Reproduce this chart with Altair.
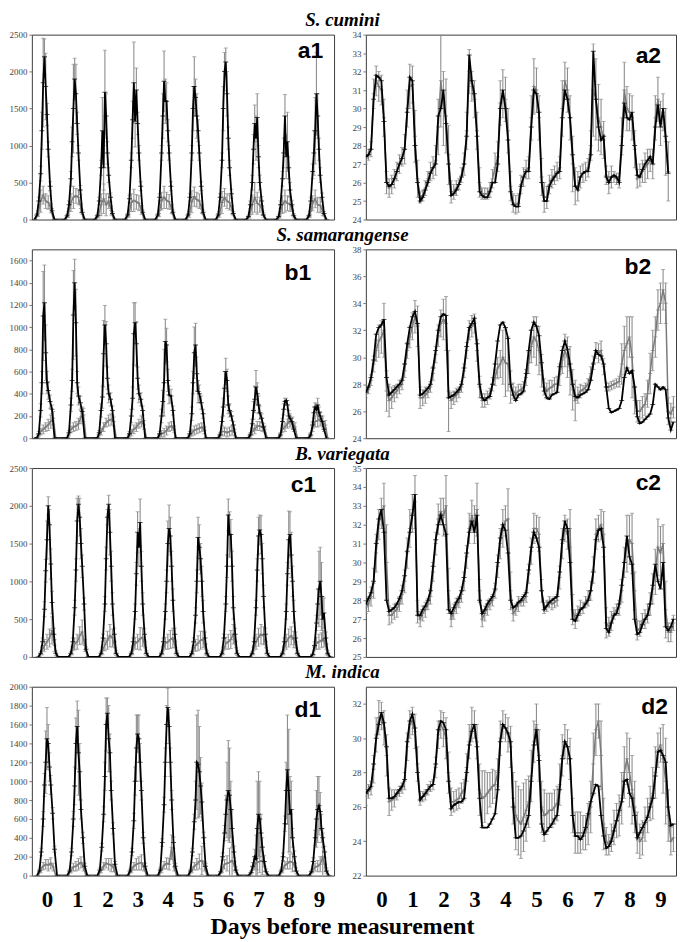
import altair as alt
import pandas as pd

# ---------------- hours within a day ----------------
HL = [4, 6, 7.5, 9, 10, 11, 12, 13, 14, 15, 16.5, 18, 20]   # light, black series
HG = [5, 7, 9, 11, 13, 15, 17, 19, 21]                      # light, grey series
HR = [0, 2, 4, 6, 8, 10, 12, 14, 16, 18, 20, 22]            # temperature
DAYS = list(range(10))

# ---------------- S. cumini ----------------
A1_B = [[0, 60, 250, 620, 1200, 1850, 2200, 1800, 1420, 950, 450, 120, 0],
        [0, 50, 200, 550, 1050, 1500, 1900, 1700, 1300, 900, 400, 100, 0],
        [0, 50, 250, 700, 1200, 700, 1720, 1400, 900, 600, 300, 80, 0],
        [0, 60, 280, 800, 1350, 1850, 1330, 1750, 1300, 900, 450, 100, 0],
        [0, 60, 300, 900, 1400, 1870, 1600, 1600, 1200, 900, 450, 100, 0],
        [0, 60, 300, 900, 1500, 1800, 1650, 1400, 1200, 900, 450, 100, 0],
        [0, 60, 300, 800, 1500, 2000, 2130, 1700, 1100, 700, 350, 80, 0],
        [0, 40, 200, 500, 950, 1300, 1100, 1380, 850, 500, 250, 60, 0],
        [0, 40, 200, 550, 900, 1400, 850, 1050, 700, 400, 200, 50, 0],
        [0, 50, 250, 650, 900, 1200, 1700, 1400, 950, 600, 300, 80, 0]]
A1_BE = [[0, 20, 50, 100, 250, 600, 240, 450, 150, 100, 60, 30, 0],
         [0, 20, 50, 100, 200, 600, 280, 400, 150, 100, 60, 30, 0],
         [0, 20, 50, 100, 450, 300, 570, 300, 150, 100, 60, 30, 0],
         [0, 20, 50, 100, 250, 550, 350, 300, 150, 100, 60, 30, 0],
         [0, 20, 50, 100, 300, 410, 300, 250, 150, 100, 60, 30, 0],
         [0, 20, 50, 100, 300, 400, 250, 300, 150, 100, 60, 30, 0],
         [0, 20, 50, 100, 300, 260, 190, 300, 150, 100, 60, 30, 0],
         [0, 20, 50, 100, 200, 250, 300, 320, 150, 100, 60, 30, 0],
         [0, 20, 50, 100, 200, 290, 300, 400, 150, 100, 60, 30, 0],
         [0, 20, 50, 100, 300, 450, 560, 300, 150, 100, 60, 30, 0]]
A1_G = [[0, 80, 250, 330, 250, 230, 150, 0, 0],
        [0, 70, 230, 300, 320, 300, 150, 0, 0],
        [0, 60, 200, 280, 200, 250, 120, 0, 0],
        [0, 70, 230, 260, 240, 220, 130, 0, 0],
        [0, 80, 250, 300, 260, 240, 140, 0, 0],
        [0, 70, 240, 310, 270, 250, 140, 0, 0],
        [0, 70, 230, 300, 250, 230, 130, 0, 0],
        [0, 60, 200, 300, 220, 200, 120, 0, 0],
        [0, 60, 200, 250, 220, 210, 120, 0, 0],
        [0, 70, 220, 280, 200, 190, 110, 0, 0]]
A1_GE = [[0, 40, 150, 120, 100, 90, 60, 0, 0],
         [0, 40, 120, 150, 100, 100, 60, 0, 0],
         [0, 40, 150, 200, 150, 100, 60, 0, 0],
         [0, 40, 120, 150, 100, 100, 60, 0, 0],
         [0, 40, 120, 150, 110, 100, 60, 0, 0],
         [0, 40, 150, 130, 100, 100, 60, 0, 0],
         [0, 40, 150, 120, 100, 100, 60, 0, 0],
         [0, 40, 130, 200, 150, 100, 60, 0, 0],
         [0, 40, 120, 150, 100, 100, 60, 0, 0],
         [0, 40, 100, 120, 100, 100, 60, 0, 0]]
A2_B = [[27.4, 27.5, 27.8, 30.5, 31.8, 31.7, 31.5, 29.3, 26.0, 25.8, 25.9, 26.2],
        [26.6, 27.0, 27.3, 27.8, 29.8, 31.7, 31.5, 28.0, 26.0, 25.0, 25.2, 25.6],
        [26.0, 26.5, 26.8, 27.0, 29.6, 30.0, 31.0, 29.2, 27.0, 25.3, 25.4, 25.6],
        [25.9, 26.3, 27.0, 28.5, 32.9, 31.5, 30.8, 28.5, 25.5, 25.3, 25.2, 25.2],
        [25.5, 26.0, 26.0, 27.0, 30.0, 31.0, 30.0, 28.3, 25.5, 24.8, 24.7, 24.7],
        [25.8, 26.3, 26.6, 26.6, 29.0, 31.0, 30.8, 29.8, 26.0, 25.0, 25.0, 25.8],
        [26.1, 26.3, 26.5, 26.6, 29.5, 31.0, 30.5, 29.5, 27.5, 25.8, 25.6, 26.3],
        [26.5, 26.6, 26.6, 27.5, 33.1, 30.5, 29.0, 28.3, 28.5, 26.3, 26.0, 26.3],
        [26.4, 26.3, 26.0, 28.0, 30.3, 29.5, 29.4, 29.8, 28.0, 26.4, 26.3, 26.7],
        [27.0, 27.2, 27.4, 27.0, 29.0, 30.2, 29.0, 30.0, 28.5, 26.5]]
A2_G = [[27.3, 27.5, 27.8, 30.8, 31.5, 31.2, 31.0, 29.5, 26.0, 25.7, 25.9, 26.2],
        [26.6, 27.0, 27.4, 27.8, 30.0, 31.2, 31.3, 28.5, 26.2, 25.2, 25.3, 25.7],
        [26.2, 26.6, 26.8, 27.2, 29.0, 31.5, 30.0, 29.6, 27.5, 25.5, 25.5, 25.7],
        [25.9, 26.4, 27.0, 28.8, 32.0, 31.2, 30.5, 28.8, 26.0, 25.4, 25.4, 25.4],
        [25.6, 26.2, 26.8, 27.4, 30.3, 30.8, 30.5, 28.8, 25.8, 24.9, 24.8, 24.9],
        [25.9, 26.3, 26.7, 26.8, 29.5, 31.2, 31.0, 29.5, 26.3, 25.2, 25.2, 25.9],
        [26.2, 26.4, 26.6, 26.8, 30.0, 31.5, 31.0, 29.5, 27.0, 25.8, 25.8, 26.3],
        [26.5, 26.6, 26.8, 28.0, 31.0, 30.5, 29.5, 29.0, 28.3, 26.4, 26.0, 26.3],
        [26.3, 26.2, 26.1, 28.5, 31.0, 30.0, 29.8, 29.5, 27.8, 26.2, 26.4, 26.6],
        [26.8, 27.0, 27.2, 27.0, 29.5, 30.5, 29.2, 29.8, 28.2, 26.6]]
A2_GE = [[0.3, 0.3, 0.4, 0.8, 0.8, 0.8, 0.8, 1.0, 0.6, 0.5, 0.5, 0.5],
         [0.5, 0.5, 0.5, 0.8, 1.0, 1.2, 1.0, 1.4, 1.0, 0.3, 0.3, 0.4],
         [0.4, 0.5, 0.6, 0.8, 1.5, 2.5, 2.0, 2.0, 1.6, 0.6, 0.4, 0.4],
         [0.3, 0.4, 0.6, 1.0, 1.2, 0.8, 1.0, 1.0, 0.8, 0.3, 0.3, 0.3],
         [0.4, 0.5, 0.8, 0.8, 1.2, 1.3, 1.2, 1.2, 0.8, 0.5, 0.5, 0.5],
         [0.5, 0.5, 0.5, 0.6, 1.2, 1.5, 1.2, 1.2, 1.0, 0.8, 0.6, 0.5],
         [0.5, 0.5, 0.5, 0.6, 1.5, 1.0, 1.2, 1.2, 1.5, 1.0, 0.8, 0.6],
         [0.5, 0.5, 0.5, 0.8, 2.5, 2.2, 1.8, 1.5, 1.0, 0.5, 0.6, 0.6],
         [0.3, 0.3, 0.4, 1.0, 1.5, 1.2, 1.0, 1.2, 1.0, 0.5, 0.6, 0.6],
         [0.8, 0.8, 0.6, 0.8, 1.2, 1.2, 1.2, 1.0, 1.8, 1.6]]

# ---------------- S. samarangense ----------------
B1_B = [[0, 0, 40, 250, 500, 1100, 1220, 770, 500, 430, 330, 260, 0],
        [0, 0, 50, 300, 520, 1110, 1400, 1040, 500, 380, 320, 240, 0],
        [0, 0, 50, 250, 370, 760, 1020, 850, 540, 400, 350, 250, 0],
        [0, 0, 40, 200, 360, 940, 1040, 850, 540, 400, 350, 250, 0],
        [0, 0, 40, 200, 330, 500, 870, 840, 520, 390, 380, 250, 0],
        [0, 0, 40, 220, 500, 770, 840, 580, 420, 400, 320, 220, 0],
        [0, 0, 30, 150, 280, 450, 600, 520, 300, 250, 200, 120, 0],
        [0, 0, 30, 130, 250, 350, 460, 400, 300, 230, 180, 100, 0],
        [0, 0, 30, 150, 260, 330, 340, 300, 200, 180, 150, 80, 0],
        [0, 0, 30, 120, 230, 280, 260, 300, 230, 200, 150, 80, 0]]
B1_BE = [[0, 0, 20, 60, 100, 400, 340, 250, 100, 80, 60, 40, 0],
         [0, 0, 20, 60, 100, 400, 210, 300, 100, 80, 60, 40, 0],
         [0, 0, 20, 60, 100, 300, 175, 200, 100, 80, 60, 40, 0],
         [0, 0, 20, 60, 100, 280, 180, 200, 100, 80, 60, 40, 0],
         [0, 0, 20, 60, 100, 300, 200, 150, 100, 80, 60, 40, 0],
         [0, 0, 20, 60, 100, 230, 195, 150, 100, 80, 60, 40, 0],
         [0, 0, 20, 40, 80, 150, 120, 100, 80, 60, 40, 30, 0],
         [0, 0, 20, 40, 80, 120, 150, 100, 80, 60, 40, 30, 0],
         [0, 0, 20, 30, 50, 30, 20, 40, 50, 40, 30, 20, 0],
         [0, 0, 20, 30, 50, 40, 50, 60, 50, 40, 30, 20, 0]]
B1_G = [[0, 20, 60, 80, 100, 120, 150, 180, 0],
        [0, 20, 80, 100, 110, 130, 190, 210, 0],
        [0, 20, 60, 100, 140, 160, 170, 150, 0],
        [0, 20, 50, 80, 100, 130, 150, 120, 0],
        [0, 20, 40, 50, 70, 100, 110, 80, 0],
        [0, 20, 50, 70, 80, 90, 100, 70, 0],
        [0, 20, 60, 60, 50, 60, 70, 50, 0],
        [0, 20, 60, 80, 110, 110, 100, 80, 0],
        [0, 30, 80, 100, 130, 150, 140, 100, 0],
        [0, 30, 100, 150, 160, 170, 150, 120, 0]]
B1_GE = [[0, 15, 30, 40, 40, 50, 60, 60, 0],
         [0, 15, 30, 40, 40, 50, 60, 60, 0],
         [0, 15, 30, 40, 40, 50, 50, 40, 0],
         [0, 15, 30, 40, 40, 40, 50, 40, 0],
         [0, 15, 30, 40, 40, 40, 40, 30, 0],
         [0, 15, 30, 40, 40, 40, 40, 30, 0],
         [0, 15, 30, 40, 40, 40, 40, 30, 0],
         [0, 15, 30, 40, 40, 40, 40, 30, 0],
         [0, 15, 30, 40, 40, 50, 50, 40, 0],
         [0, 15, 40, 50, 60, 60, 50, 40, 0]]
B2_B = [[27.4, 27.8, 28.5, 29.8, 31.7, 32.2, 32.4, 32.8, 28.5, 27.2, 27.4, 27.6],
        [27.8, 28.0, 28.3, 29.5, 31.0, 32.2, 33.0, 33.4, 32.5, 27.2, 27.3, 27.5],
        [27.7, 28.0, 29.2, 30.5, 32.0, 33.0, 33.2, 33.1, 27.0, 27.1, 27.2, 27.4],
        [27.6, 28.0, 29.2, 30.8, 32.2, 32.5, 32.9, 31.0, 28.0, 27.0, 26.8, 27.0],
        [27.1, 28.0, 29.5, 31.2, 32.4, 32.6, 32.2, 31.4, 28.0, 27.2, 26.8, 27.2],
        [27.3, 27.5, 28.8, 30.5, 32.0, 32.6, 32.3, 31.6, 29.6, 27.5, 27.0, 26.9],
        [27.2, 27.3, 27.4, 29.3, 30.5, 31.2, 30.6, 29.5, 28.0, 27.1, 27.0, 27.2],
        [27.3, 27.4, 27.6, 28.3, 29.5, 30.5, 30.2, 30.1, 29.5, 27.8, 26.2, 25.9],
        [26.0, 26.1, 26.2, 26.8, 28.5, 29.2, 28.8, 29.0, 27.8, 25.6, 25.1, 25.2],
        [25.4, 25.6, 25.8, 26.5, 28.0, 27.8, 27.6, 27.8, 27.6, 25.5, 24.6, 25.2]]
B2_G = [[27.3, 27.6, 28.3, 29.5, 30.5, 31.2, 31.5, 32.0, 27.5, 26.8, 27.0, 27.3],
        [27.5, 27.8, 28.0, 29.0, 30.5, 31.5, 32.3, 33.0, 32.3, 27.0, 27.0, 27.2],
        [27.4, 27.8, 28.8, 30.2, 31.6, 32.5, 32.8, 32.5, 27.5, 26.8, 27.0, 27.2],
        [27.4, 27.8, 29.0, 30.5, 32.0, 32.3, 32.5, 30.5, 27.8, 26.8, 26.8, 27.0],
        [27.3, 28.0, 28.5, 29.2, 29.5, 30.0, 29.6, 29.5, 27.8, 27.5, 27.3, 27.5],
        [27.6, 27.8, 28.5, 29.6, 30.8, 31.5, 31.2, 30.5, 29.0, 27.8, 27.5, 27.7],
        [27.8, 28.0, 28.0, 28.7, 29.8, 30.5, 30.0, 29.0, 27.6, 26.8, 27.2, 27.5],
        [27.6, 27.8, 28.0, 28.8, 29.6, 30.5, 30.3, 30.5, 29.3, 27.8, 27.8, 27.9],
        [28.0, 28.1, 28.2, 29.5, 30.5, 31.0, 31.5, 30.0, 26.8, 26.0, 26.0, 26.3],
        [26.5, 27.3, 28.8, 30.5, 31.5, 33.5, 34.0, 35.0, 34.0, 26.0, 25.8, 26.3]]
B2_GE = [[0.3, 0.3, 0.4, 0.6, 0.8, 1.2, 1.2, 2.0, 1.5, 1.2, 0.8, 0.6],
         [0.5, 0.5, 0.4, 0.5, 0.6, 0.8, 1.0, 1.2, 1.5, 0.8, 0.6, 0.6],
         [0.4, 0.4, 0.5, 0.6, 0.8, 1.0, 1.5, 2.0, 3.0, 0.6, 0.5, 0.5],
         [0.4, 0.4, 0.5, 0.6, 0.7, 0.8, 0.7, 0.8, 0.8, 0.5, 0.5, 0.5],
         [0.4, 0.5, 0.6, 0.8, 1.0, 2.0, 2.5, 2.0, 1.2, 0.6, 0.5, 0.5],
         [0.4, 0.4, 0.6, 0.8, 1.2, 1.5, 1.8, 1.8, 1.2, 0.6, 0.6, 0.6],
         [0.5, 0.5, 0.6, 0.8, 1.0, 1.2, 1.5, 1.8, 1.5, 1.5, 0.6, 0.5],
         [0.3, 0.3, 0.4, 0.5, 0.5, 0.6, 0.7, 0.7, 0.6, 0.3, 0.3, 0.3],
         [0.3, 0.3, 0.4, 1.5, 1.8, 2.0, 1.5, 3.0, 1.0, 0.8, 0.8, 0.8],
         [0.8, 1.0, 1.5, 1.5, 1.5, 1.5, 1.5, 1.5, 1.5, 1.0, 0.8, 0.8]]

# ---------------- B. variegata ----------------
C1_B = [[0, 50, 200, 630, 1140, 1550, 2000, 1750, 1230, 720, 300, 50, 0],
        [0, 50, 200, 650, 1150, 1800, 2020, 1850, 1500, 1200, 700, 100, 0],
        [0, 50, 250, 700, 1300, 1850, 2020, 1650, 1200, 700, 300, 50, 0],
        [0, 50, 200, 600, 1100, 1650, 1450, 1780, 1200, 700, 300, 50, 0],
        [0, 50, 200, 600, 1000, 1500, 1700, 1600, 1200, 750, 300, 50, 0],
        [0, 50, 200, 550, 1000, 1580, 1450, 1300, 1000, 600, 250, 50, 0],
        [0, 50, 250, 700, 1200, 1880, 1620, 1620, 1200, 650, 300, 50, 0],
        [0, 50, 200, 650, 1150, 1600, 1680, 1620, 1300, 800, 300, 50, 0],
        [0, 50, 200, 600, 1100, 1550, 1620, 1350, 1000, 600, 250, 50, 0],
        [0, 30, 150, 450, 700, 900, 1000, 800, 500, 580, 250, 50, 0]]
C1_BE = [[0, 20, 50, 100, 150, 250, 120, 200, 200, 150, 80, 30, 0],
         [0, 20, 50, 100, 150, 300, 110, 250, 200, 150, 80, 30, 0],
         [0, 20, 50, 100, 150, 100, 120, 300, 200, 150, 80, 30, 0],
         [0, 20, 50, 100, 150, 270, 250, 310, 200, 150, 80, 30, 0],
         [0, 20, 50, 100, 150, 300, 310, 250, 200, 150, 80, 30, 0],
         [0, 20, 50, 100, 150, 270, 300, 200, 200, 150, 80, 30, 0],
         [0, 20, 50, 100, 150, 210, 300, 200, 200, 150, 80, 30, 0],
         [0, 20, 50, 100, 150, 250, 200, 250, 200, 150, 80, 30, 0],
         [0, 20, 50, 100, 150, 380, 300, 300, 200, 150, 80, 30, 0],
         [0, 20, 50, 100, 200, 500, 450, 450, 300, 200, 80, 30, 0]]
C1_G = [[0, 80, 150, 200, 250, 350, 150, 0, 0],
        [0, 80, 170, 200, 280, 330, 150, 0, 0],
        [0, 80, 160, 220, 280, 250, 120, 0, 0],
        [0, 80, 180, 200, 240, 260, 120, 0, 0],
        [0, 80, 180, 200, 230, 250, 120, 0, 0],
        [0, 80, 150, 180, 220, 230, 100, 0, 0],
        [0, 80, 180, 200, 230, 300, 120, 0, 0],
        [0, 80, 200, 260, 300, 280, 120, 0, 0],
        [0, 80, 200, 250, 280, 230, 120, 0, 0],
        [0, 80, 180, 200, 220, 240, 100, 0, 0]]
C1_GE = [[0, 50, 80, 100, 120, 180, 80, 0, 0],
         [0, 50, 80, 100, 120, 160, 80, 0, 0],
         [0, 50, 80, 120, 150, 120, 80, 0, 0],
         [0, 50, 80, 100, 150, 120, 80, 0, 0],
         [0, 50, 80, 100, 120, 130, 80, 0, 0],
         [0, 50, 80, 100, 120, 110, 70, 0, 0],
         [0, 50, 80, 100, 120, 130, 80, 0, 0],
         [0, 50, 100, 120, 130, 120, 80, 0, 0],
         [0, 50, 100, 120, 120, 110, 80, 0, 0],
         [0, 50, 80, 100, 100, 110, 70, 0, 0]]
C2_B = [[27.8, 28.1, 28.4, 29.0, 31.0, 32.3, 32.8, 31.6, 28.0, 27.4, 27.5, 27.6],
        [27.8, 28.1, 28.5, 29.3, 30.6, 31.6, 32.5, 33.6, 27.2, 27.2, 27.5, 27.7],
        [28.0, 28.5, 29.8, 31.2, 32.0, 32.5, 32.0, 31.5, 27.5, 27.3, 27.6, 27.9],
        [28.1, 28.5, 29.2, 30.5, 31.6, 32.2, 31.6, 32.5, 28.0, 27.3, 27.5, 27.8],
        [28.0, 28.2, 28.6, 30.0, 31.3, 32.0, 31.7, 30.5, 28.0, 27.6, 27.7, 27.9],
        [28.0, 28.2, 28.4, 29.6, 30.8, 31.6, 31.3, 30.8, 28.5, 27.5, 27.7, 27.9],
        [28.0, 28.1, 28.2, 29.5, 31.2, 32.2, 31.8, 30.0, 27.0, 26.9, 27.2, 27.5],
        [27.6, 27.8, 28.0, 28.5, 29.5, 31.2, 31.7, 31.8, 30.8, 26.5, 26.3, 26.8],
        [27.2, 27.3, 27.8, 28.8, 30.0, 31.4, 30.3, 29.9, 27.0, 26.2, 26.3, 26.7],
        [27.0, 27.2, 27.8, 28.8, 29.9, 29.0, 28.6, 30.0, 26.6, 26.4, 26.6, 27.0]]
C2_G = [[27.6, 27.8, 28.2, 28.9, 30.5, 32.0, 32.6, 33.0, 30.0, 27.2, 27.2, 27.4],
        [27.5, 27.8, 28.3, 29.0, 30.5, 31.8, 32.6, 33.2, 27.4, 27.0, 27.3, 27.5],
        [27.8, 28.2, 29.5, 31.0, 32.3, 32.7, 32.4, 33.0, 28.5, 27.0, 27.4, 27.7],
        [27.9, 28.3, 29.0, 30.3, 31.8, 32.5, 32.0, 32.8, 28.5, 27.0, 27.3, 27.6],
        [27.8, 28.0, 28.5, 29.8, 31.0, 31.8, 32.2, 32.3, 28.5, 27.3, 27.5, 27.8],
        [27.9, 28.0, 28.2, 29.4, 30.6, 31.8, 31.8, 31.5, 28.5, 27.6, 27.7, 27.9],
        [27.8, 27.9, 28.0, 29.2, 31.0, 31.8, 31.5, 31.8, 27.5, 27.0, 27.3, 27.6],
        [27.6, 27.9, 28.1, 28.5, 29.6, 31.5, 31.8, 32.0, 31.5, 26.8, 26.6, 26.9],
        [27.3, 27.5, 27.6, 28.5, 30.0, 31.0, 31.2, 31.0, 28.5, 26.4, 26.5, 26.9],
        [27.0, 27.3, 27.8, 28.6, 29.5, 30.8, 30.5, 31.0, 27.5, 26.3, 26.3, 26.8]]
C2_GE = [[0.3, 0.4, 0.5, 0.8, 1.0, 0.8, 0.8, 1.2, 2.0, 0.5, 0.4, 0.4],
         [0.4, 0.4, 0.5, 0.6, 0.8, 1.0, 1.0, 1.4, 0.6, 0.4, 0.4, 0.4],
         [0.3, 0.4, 0.5, 0.6, 0.8, 0.7, 1.0, 1.6, 1.2, 0.4, 0.4, 0.4],
         [0.3, 0.4, 0.5, 0.6, 0.8, 0.8, 1.0, 1.4, 0.6, 0.4, 0.4, 0.4],
         [0.3, 0.3, 0.4, 0.6, 0.8, 1.0, 0.8, 1.6, 1.0, 0.4, 0.3, 0.4],
         [0.2, 0.3, 0.3, 0.5, 0.7, 0.8, 0.7, 0.9, 0.6, 0.3, 0.3, 0.3],
         [0.3, 0.3, 0.3, 0.6, 0.8, 0.7, 0.8, 1.0, 0.8, 0.5, 0.4, 0.4],
         [0.3, 0.3, 0.4, 0.5, 0.7, 0.8, 0.7, 0.8, 1.2, 0.8, 0.5, 0.5],
         [0.3, 0.3, 0.4, 0.6, 0.8, 1.5, 1.3, 1.6, 1.0, 0.5, 0.4, 0.4],
         [0.5, 0.5, 0.6, 0.8, 1.2, 1.5, 1.4, 1.0, 1.5, 0.5, 0.5, 0.4]]

# ---------------- M. indica ----------------
D1_B = [[0, 50, 250, 600, 960, 1200, 1450, 1400, 1150, 960, 660, 280, 0],
        [0, 50, 250, 600, 950, 1400, 1580, 1300, 1100, 700, 400, 100, 0],
        [0, 60, 300, 650, 1050, 1600, 1720, 1450, 1300, 900, 500, 120, 0],
        [0, 50, 250, 580, 1000, 1350, 1500, 1450, 1200, 900, 400, 100, 0],
        [0, 60, 350, 750, 1200, 1600, 1780, 1580, 1200, 800, 350, 100, 0],
        [0, 50, 250, 570, 800, 1200, 1180, 1100, 950, 780, 400, 100, 0],
        [0, 40, 200, 450, 650, 800, 900, 850, 700, 500, 250, 60, 0],
        [0, 30, 100, 200, 180, 500, 650, 600, 450, 300, 150, 40, 0],
        [0, 50, 200, 550, 900, 1120, 900, 650, 700, 400, 200, 50, 0],
        [0, 40, 150, 400, 600, 700, 740, 680, 500, 400, 250, 50, 0]]
D1_BE = [[0, 20, 40, 80, 120, 330, 330, 200, 150, 100, 60, 30, 0],
         [0, 20, 40, 80, 200, 270, 270, 450, 300, 100, 60, 30, 0],
         [0, 20, 40, 80, 150, 280, 160, 350, 200, 100, 60, 30, 0],
         [0, 20, 40, 80, 150, 350, 200, 250, 200, 100, 60, 30, 0],
         [0, 20, 40, 80, 150, 200, 200, 180, 150, 100, 60, 30, 0],
         [0, 20, 40, 80, 200, 500, 570, 480, 300, 200, 60, 30, 0],
         [0, 20, 40, 80, 200, 400, 530, 500, 300, 200, 60, 30, 0],
         [0, 20, 40, 80, 250, 500, 450, 400, 200, 100, 60, 30, 0],
         [0, 20, 40, 80, 300, 580, 650, 400, 300, 100, 60, 30, 0],
         [0, 20, 40, 80, 300, 350, 310, 200, 150, 100, 60, 30, 0]]
D1_G = [[0, 60, 100, 120, 110, 130, 90, 0, 0],
        [0, 60, 90, 100, 120, 140, 90, 0, 0],
        [0, 60, 100, 130, 120, 110, 80, 0, 0],
        [0, 60, 100, 120, 130, 140, 90, 0, 0],
        [0, 60, 110, 130, 120, 300, 90, 0, 0],
        [0, 60, 100, 120, 150, 160, 100, 0, 0],
        [0, 60, 120, 130, 140, 160, 100, 0, 0],
        [0, 60, 120, 140, 150, 160, 100, 0, 0],
        [0, 60, 110, 130, 150, 140, 90, 0, 0],
        [0, 60, 90, 100, 120, 200, 80, 0, 0]]
D1_GE = [[0, 30, 40, 50, 60, 60, 40, 0, 0],
         [0, 30, 40, 50, 60, 60, 40, 0, 0],
         [0, 30, 40, 50, 60, 70, 40, 0, 0],
         [0, 30, 40, 60, 70, 80, 40, 0, 0],
         [0, 30, 40, 60, 60, 130, 40, 0, 0],
         [0, 30, 40, 60, 80, 150, 50, 0, 0],
         [0, 30, 50, 80, 150, 250, 50, 0, 0],
         [0, 30, 50, 80, 120, 150, 50, 0, 0],
         [0, 30, 40, 60, 80, 100, 40, 0, 0],
         [0, 30, 40, 60, 80, 250, 40, 0, 0]]
D2_B = [[26.8, 27.0, 27.2, 28.5, 30.0, 30.8, 31.5, 30.9, 29.5, 26.5, 26.5, 26.6],
        [26.8, 27.0, 27.2, 27.6, 29.8, 31.0, 31.4, 30.6, 28.0, 26.4, 26.6, 26.8],
        [27.0, 27.2, 27.3, 28.5, 30.5, 31.0, 30.9, 30.5, 27.5, 25.9, 26.1, 26.2],
        [26.3, 26.3, 26.5, 28.0, 29.6, 30.4, 30.8, 29.5, 26.5, 24.8, 24.8, 24.8],
        [25.0, 25.3, 25.6, 27.0, 29.8, 30.8, 30.6, 30.3, 29.8, 26.0, 24.2, 24.2],
        [24.3, 24.6, 25.0, 25.5, 27.5, 29.6, 30.5, 28.7, 25.0, 24.4, 24.6, 24.8],
        [25.0, 25.3, 25.5, 27.0, 28.8, 29.8, 29.5, 28.8, 25.5, 24.3, 24.3, 24.1],
        [24.3, 24.8, 25.6, 26.3, 26.8, 27.3, 27.2, 25.5, 24.3, 23.6, 23.7, 24.0],
        [24.6, 25.2, 25.8, 26.3, 27.5, 27.6, 26.8, 26.5, 25.5, 24.2, 24.5, 24.8],
        [25.1, 25.4, 26.0, 26.5, 27.8, 29.2, 29.3, 29.0, 28.6, 26.0, 24.9, 25.0]]
D2_G = [[26.6, 26.9, 27.1, 28.2, 30.2, 31.2, 31.3, 30.6, 29.0, 26.3, 26.4, 26.5],
        [26.7, 26.9, 27.1, 27.5, 29.5, 30.8, 31.0, 30.4, 28.5, 26.5, 26.6, 26.7],
        [27.0, 27.2, 27.3, 28.3, 30.2, 30.8, 30.5, 30.0, 28.0, 26.3, 26.3, 26.4],
        [26.5, 26.8, 27.0, 28.3, 29.8, 30.8, 30.8, 29.8, 27.0, 26.5, 26.6, 26.8],
        [27.0, 27.2, 27.3, 28.0, 30.0, 30.8, 30.6, 30.2, 29.5, 26.5, 25.5, 25.2],
        [25.0, 25.4, 25.8, 26.3, 27.8, 29.8, 30.8, 29.0, 26.0, 25.5, 25.6, 25.8],
        [25.8, 26.0, 26.2, 27.3, 29.0, 29.8, 29.5, 28.8, 25.5, 24.5, 24.5, 24.5],
        [24.5, 24.5, 25.0, 26.0, 28.5, 30.5, 31.0, 29.0, 25.0, 24.0, 23.8, 24.2],
        [24.8, 25.2, 25.5, 26.5, 28.0, 28.8, 28.0, 27.0, 26.0, 24.5, 24.0, 24.2],
        [25.0, 25.5, 26.2, 26.8, 28.0, 29.3, 29.6, 28.8, 27.5, 25.5, 24.0, 24.2]]
D2_GE = [[0.5, 0.4, 0.4, 0.8, 1.0, 1.0, 0.8, 1.0, 1.2, 0.8, 0.6, 0.5],
         [0.3, 0.3, 0.3, 0.5, 0.8, 0.8, 0.8, 1.0, 1.0, 0.4, 0.3, 0.3],
         [0.3, 0.3, 0.3, 0.6, 0.8, 0.8, 1.0, 1.2, 1.2, 0.8, 0.6, 0.6],
         [0.6, 0.6, 0.6, 0.8, 1.0, 1.0, 0.8, 1.0, 1.5, 1.6, 1.5, 1.2],
         [1.0, 1.0, 0.8, 0.8, 1.0, 0.8, 0.8, 1.0, 1.2, 1.5, 2.0, 2.0],
         [2.0, 2.0, 1.8, 1.5, 1.5, 1.2, 1.2, 1.5, 1.5, 1.5, 1.2, 1.0],
         [1.0, 1.0, 1.0, 1.2, 1.2, 1.0, 1.0, 1.2, 1.0, 1.2, 1.2, 1.2],
         [1.0, 1.0, 1.2, 1.5, 1.8, 1.5, 1.0, 2.0, 1.5, 0.8, 0.6, 0.8],
         [1.0, 1.0, 1.2, 1.5, 1.5, 1.5, 2.0, 2.0, 1.5, 1.2, 1.0, 1.0],
         [1.0, 1.0, 1.0, 1.5, 1.5, 1.0, 1.0, 2.0, 2.5, 1.5, 0.8, 0.8]]

TITLES = ["S. cumini", "S. samarangense", "B. variegata", "M. indica"]
X_TITLE = "Days before measurement"

GREY_LINE = "#7a7a7a"
GREY_ERR = "#8e8e8e"
SERIF = "Liberation Serif"


def light_frame(b, be, g, ge):
    rows = []
    for d in DAYS:
        for h, v, e in zip(HL, b[d], be[d]):
            rows.append({"x": 24 * d + h, "v": v, "e": e, "s": "B"})
        for h, v, e in zip(HG, g[d], ge[d]):
            rows.append({"x": 24 * d + h, "v": v, "e": e, "s": "G"})
    return pd.DataFrame(rows)


def temp_frame(b, g, ge):
    rows = []
    for d in DAYS:
        for h, v in zip(HR, b[d]):
            rows.append({"x": 24 * d + h, "v": v, "e": 0, "s": "B"})
        for h, v, e in zip(HR, g[d], ge[d]):
            rows.append({"x": 24 * d + h, "v": v, "e": e, "s": "G"})
    return pd.DataFrame(rows)


def panel(df, xdom, ydom, yticks, w, h, label, lx, ly, bottom):
    if bottom:
        xaxis = alt.Axis(values=[12 + 24 * i for i in DAYS],
                         labelExpr="'' + floor(datum.value / 24)",
                         ticks=False, domain=False, grid=False, title=None,
                         labelFont=SERIF, labelFontSize=23, labelFontWeight="bold",
                         labelColor="black", labelPadding=13)
    else:
        xaxis = None
    xs = alt.Scale(domain=xdom, nice=False, zero=False)
    ys = alt.Scale(domain=ydom, nice=False, zero=False)
    yaxis = alt.Axis(values=yticks, title=None, grid=False, domain=False, format="d",
                     tickSize=3, tickColor="#777", labelFont=SERIF,
                     labelFontSize=9, labelColor="#444", labelPadding=2)
    X = alt.X("x:Q", scale=xs, axis=xaxis)

    base = alt.Chart(df)
    err = base.transform_filter("datum.e > 0").transform_calculate(
        lo="datum.v - datum.e", hi="datum.v + datum.e")
    rules = err.mark_rule(color=GREY_ERR, strokeWidth=1.1, clip=True).encode(
        x=X, y=alt.Y("lo:Q", scale=ys, axis=yaxis), y2="hi:Q")
    cap_hi = err.mark_tick(orient="horizontal", size=4, thickness=1,
                           color=GREY_ERR, clip=True).encode(
        x=X, y=alt.Y("hi:Q", scale=ys, axis=yaxis))
    cap_lo = err.mark_tick(orient="horizontal", size=4, thickness=1,
                           color=GREY_ERR, clip=True).encode(
        x=X, y=alt.Y("lo:Q", scale=ys, axis=yaxis))
    Y = alt.Y("v:Q", scale=ys, axis=yaxis)
    g = base.transform_filter("datum.s == 'G'")
    b = base.transform_filter("datum.s == 'B'")
    gline = g.mark_line(color=GREY_LINE, strokeWidth=1.5, clip=True).encode(x=X, y=Y)
    gtick = g.mark_tick(orient="horizontal", size=4, thickness=1,
                        color=GREY_LINE, clip=True).encode(x=X, y=Y)
    bline = b.mark_line(color="black", strokeWidth=1.8, clip=True).encode(x=X, y=Y)
    btick = b.mark_tick(orient="horizontal", size=5, thickness=1,
                        color="black", clip=True).encode(x=X, y=Y)
    lab = alt.Chart(pd.DataFrame({"t": [label]})).mark_text(
        align="right", baseline="middle", font="Liberation Sans",
        fontWeight="bold", fontSize=23, color="black").encode(
        text="t:N", x=alt.value(w - lx), y=alt.value(ly))
    return alt.layer(rules, cap_hi, cap_lo, gline, gtick, bline, btick, lab).properties(
        width=w, height=h)


LW, RW = 304, 312
HA, HB = 186, 190

a1 = panel(light_frame(A1_B, A1_BE, A1_G, A1_GE), [2, 242], [0, 2500],
           [0, 500, 1000, 1500, 2000, 2500], LW, HA, "a1", 11, 17, False)
a2 = panel(temp_frame(A2_B, A2_G, A2_GE), [0, 240], [24, 34],
           list(range(24, 35)), RW, HA, "a2", 15, 22, False)
b1 = panel(light_frame(B1_B, B1_BE, B1_G, B1_GE), [2, 242], [0, 1700],
           list(range(0, 1601, 200)), LW, HB, "b1", 23, 24, False)
b2 = panel(temp_frame(B2_B, B2_G, B2_GE), [0, 240], [24, 38],
           list(range(24, 39, 2)), RW, HB, "b2", 25, 18, False)
c1 = panel(light_frame(C1_B, C1_BE, C1_G, C1_GE), [-1, 239], [0, 2500],
           [0, 500, 1000, 1500, 2000, 2500], LW, HB, "c1", 18, 17, False)
c2 = panel(temp_frame(C2_B, C2_G, C2_GE), [0, 240], [25, 35],
           list(range(25, 36)), RW, HB, "c2", 15, 15, False)
d1 = panel(light_frame(D1_B, D1_BE, D1_G, D1_GE), [0, 240], [0, 2000],
           list(range(0, 2001, 200)), LW, HB, "d1", 13, 23, True)
d2 = panel(temp_frame(D2_B, D2_G, D2_GE), [0, 240], [22, 33],
           list(range(22, 33, 2)), RW, HB, "d2", 8, 20, True)


def row(left, right, title):
    return alt.hconcat(left, right, spacing=16, title=alt.TitleParams(
        title, anchor="middle", font=SERIF, fontSize=19, fontStyle="italic",
        fontWeight="bold", color="black", offset=0))


chart = alt.vconcat(
    row(a1, a2, TITLES[0]), row(b1, b2, TITLES[1]),
    row(c1, c2, TITLES[2]), row(d1, d2, TITLES[3]),
    spacing=0,
    title=alt.TitleParams(X_TITLE, orient="bottom", anchor="middle", font=SERIF,
                          fontSize=24, fontWeight="bold", color="black", offset=3),
).properties(padding=0).configure_view(stroke="#3c3c3c", strokeWidth=1)

chart.save("out.html", embed_options={"renderer": "svg", "actions": False})
